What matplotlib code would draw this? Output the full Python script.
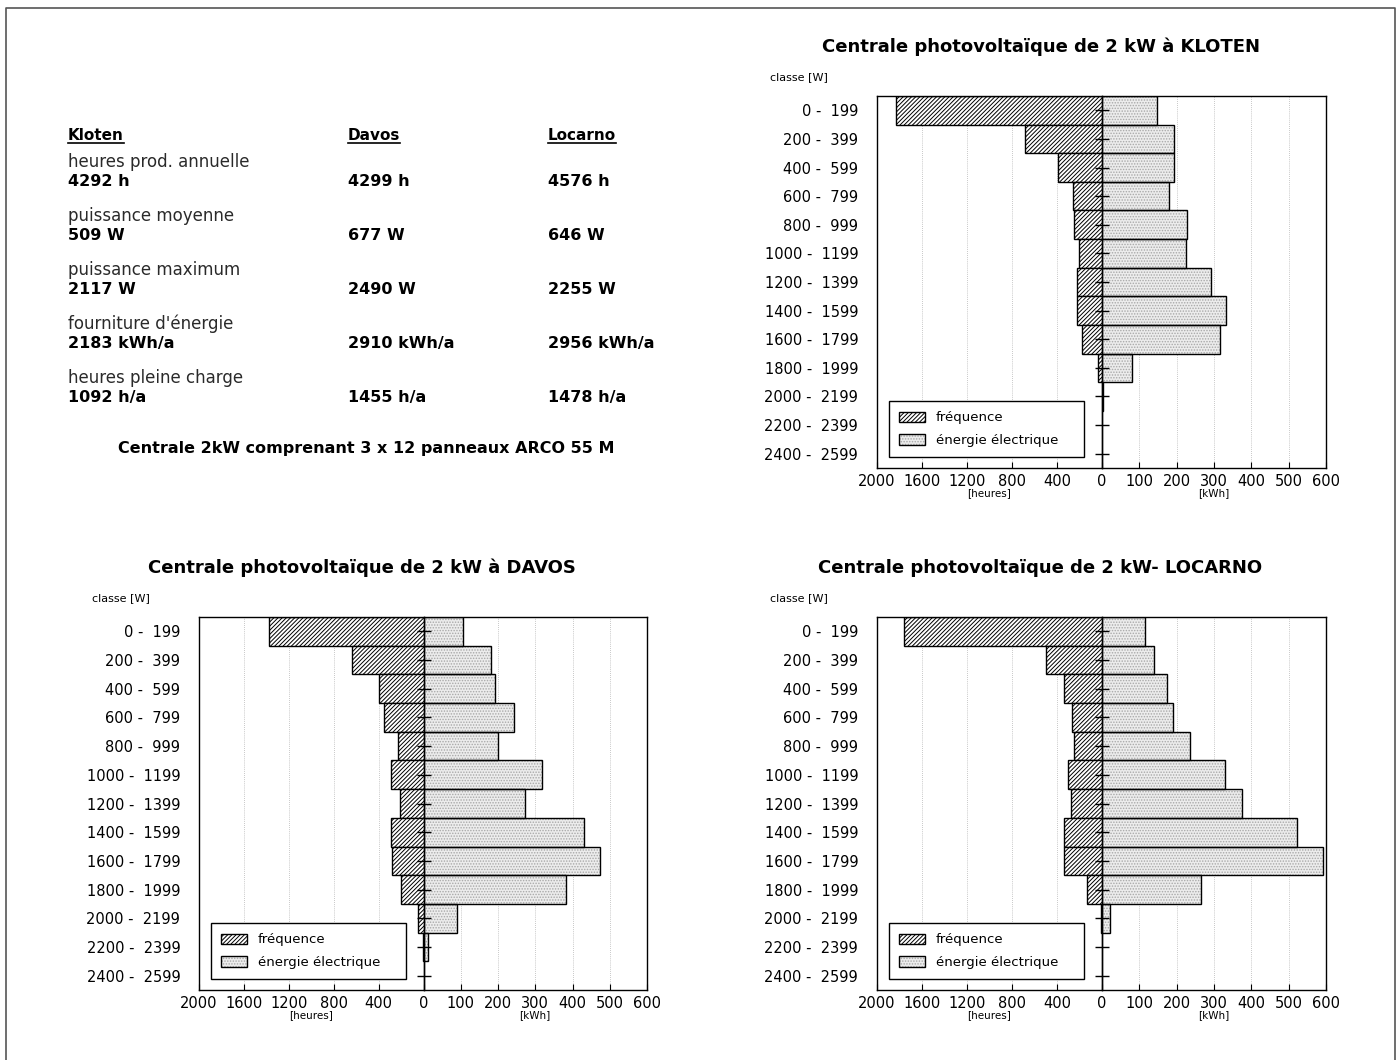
import matplotlib
matplotlib.use('Agg')
import matplotlib.pyplot as plt
import numpy as np
from matplotlib.patches import Patch
from matplotlib.lines import Line2D
from matplotlib.transforms import IdentityTransform

# ---------------- data ----------------
classes = ["0 -  199", "200 -  399", "400 -  599", "600 -  799", "800 -  999",
           "1000 -  1199", "1200 -  1399", "1400 -  1599", "1600 -  1799",
           "1800 -  1999", "2000 -  2199", "2200 -  2399", "2400 -  2599"]

kloten_hours = [1827, 681, 390, 256, 250, 202, 220, 220, 182, 39, 3, 0, 0]
kloten_kwh = [146, 192, 194, 180, 228, 225, 291, 333, 317, 81, 2, 0, 0]
davos_hours = [1373, 633, 392, 354, 223, 291, 211, 288, 279, 199, 45, 3, 0]
davos_kwh = [107, 182, 193, 242, 200, 317, 272, 432, 475, 383, 89, 11, 0]
locarno_hours = [1762, 494, 339, 271, 253, 298, 280, 342, 342, 137, 5, 0, 0]
locarno_kwh = [114, 139, 173, 191, 236, 329, 374, 523, 592, 265, 22, 0, 0]

hours_ticks = [2000, 1600, 1200, 800, 400]
kwh_ticks = [0, 100, 200, 300, 400, 500, 600]

sites = ["Kloten", "Davos", "Locarno"]
row_labels = ["heures prod. annuelle", "puissance moyenne", "puissance maximum",
              "fourniture d'énergie", "heures pleine charge"]
kloten_vals = ["4292 h", "509 W", "2117 W", "2183 kWh/a", "1092 h/a"]
davos_vals = ["4299 h", "677 W", "2490 W", "2910 kWh/a", "1455 h/a"]
locarno_vals = ["4576 h", "646 W", "2255 W", "2956 kWh/a", "1478 h/a"]
caption = "Centrale 2kW comprenant 3 x 12 panneaux ARCO 55 M"

legend_labels = ["fréquence", "énergie électrique"]

# ---------------- style ----------------
plt.rcParams['font.family'] = ['DejaVu Sans']
plt.rcParams['hatch.linewidth'] = 0.7

W, H = 1400, 1060
fig = plt.figure(figsize=(W / 100, H / 100), dpi=100)


def fx(x):
    return x / W


def fy(y):
    return 1 - y / H


# outer frame
fig.add_artist(Line2D([fx(6), fx(6), fx(1395), fx(1395)],
                      [fy(1062), fy(8), fy(8), fy(1062)],
                      transform=fig.transFigure, color='#555555', lw=1.2))

fill_gray = '#ececec'
dot_gray = '#a8a8a8'
grid_kw = dict(color='#b5b5b5', lw=0.6, ls=(0, (1, 1.5)), zorder=0.5)
FREQ_HATCH = '////////'
DOT_HATCH = '......'


def make_chart(left, top, right, bottom, title, hours, kwh):
    zero = (left + right) / 2 + 0.5
    h = (bottom - top) / H
    axL = fig.add_axes([fx(left), fy(bottom), (zero - left) / W, h])
    axR = fig.add_axes([fx(zero), fy(bottom), (right - zero) / W, h])
    y = np.arange(len(classes))
    axL.barh(y, hours, height=1.0, facecolor='white', edgecolor='black',
             hatch=FREQ_HATCH, lw=1.0, zorder=1)
    axR.barh(y, kwh, height=1.0, facecolor=fill_gray, edgecolor=dot_gray,
             hatch=DOT_HATCH, lw=0, zorder=1)
    axR.barh(y, kwh, height=1.0, fill=False, edgecolor='black', lw=1.0,
             zorder=1.1)
    axL.set_xlim(2000, 0)
    axR.set_xlim(0, 600)
    for ax in (axL, axR):
        ax.set_ylim(len(classes) - 0.5, -0.5)
        for s in ax.spines.values():
            s.set_linewidth(1.0)
            s.set_zorder(3)
    axL.spines['right'].set_visible(False)
    axR.set_axisbelow(False)
    # gridlines
    for v in hours_ticks[1:]:
        axL.axvline(v, **grid_kw)
    for v in kwh_ticks[1:-1]:
        axR.axvline(v, **grid_kw)
    # y ticks
    axL.set_yticks(y)
    axL.set_yticklabels(classes, fontsize=10.5)
    axL.tick_params(axis='y', length=0, pad=13.5)
    axR.set_yticks(y)
    axR.tick_params(axis='y', direction='inout', length=10, width=1.0,
                    labelleft=False, left=True)
    # x ticks
    axL.set_xticks(hours_ticks)
    axL.set_xticklabels([str(v) for v in hours_ticks], fontsize=10.5)
    axR.set_xticks(kwh_ticks)
    axR.set_xticklabels([str(v) for v in kwh_ticks], fontsize=10.5)
    for ax in (axL, axR):
        ax.tick_params(axis='x', direction='in', length=4, width=0.8, pad=4)
    axL.set_xlabel("[heures]", fontsize=7.5, labelpad=0)
    axR.set_xlabel("[kWh]", fontsize=7.5, labelpad=0)
    # legend
    h_freq = Patch(facecolor='white', edgecolor='black', hatch=FREQ_HATCH, lw=1.0)
    h_en = (Patch(facecolor=fill_gray, edgecolor=dot_gray, hatch=DOT_HATCH, lw=0),
            Patch(fill=False, edgecolor='black', lw=1.0))
    leg = axL.legend([h_freq, h_en], legend_labels, loc='lower left',
                     bbox_to_anchor=(12 / (zero - left), 11 / (bottom - top),
                                     195 / (zero - left), 0.1),
                     mode='expand', fontsize=9.5, frameon=True, fancybox=False,
                     edgecolor='black', framealpha=1, borderpad=0.75,
                     labelspacing=0.75, handlelength=2.0, handleheight=0.8,
                     handletextpad=0.8, borderaxespad=0)
    leg.get_frame().set_linewidth(1.0)
    leg.set_zorder(5)
    # title & class label
    fig.text(fx(left + (right - left) / 2 - 61), fy(top - 49), title,
             ha='center', va='center', fontsize=13, fontweight='bold')
    fig.text(fx(left - 107), fy(top - 19), "classe [W]", ha='left',
             va='center', fontsize=8)
    return axL, axR


make_chart(877, 96, 1326, 468, "Centrale photovoltaïque de 2 kW à KLOTEN",
           kloten_hours, kloten_kwh)
make_chart(199, 617, 647, 990, "Centrale photovoltaïque de 2 kW à DAVOS",
           davos_hours, davos_kwh)
make_chart(877, 617, 1326, 990, "Centrale photovoltaïque de 2 kW- LOCARNO",
           locarno_hours, locarno_kwh)

# ---------------- text block ----------------
col_x = [68, 348, 548]
header_y = 136
headers = []
for sx, name in zip(col_x, sites):
    t = fig.text(fx(sx), fy(header_y), name, ha='left', va='center',
                 fontsize=11, fontweight='bold')
    headers.append(t)

vals = [kloten_vals, davos_vals, locarno_vals]
for i, lab in enumerate(row_labels):
    ly = 162 + i * 54
    vy = ly + 19.5
    fig.text(fx(col_x[0]), fy(ly), lab, ha='left', va='center', fontsize=12,
             color='#2a2a2a')
    for sx, v in zip(col_x, vals):
        fig.text(fx(sx), fy(vy), v[i], ha='left', va='center', fontsize=11.5,
                 fontweight='bold')

fig.text(fx(366), fy(449), caption, ha='center', va='center', fontsize=11.5,
         fontweight='bold')

# underline headers
fig.canvas.draw()
r = fig.canvas.get_renderer()
for t in headers:
    bb = t.get_window_extent(r)
    fig.add_artist(Line2D([bb.x0, bb.x1], [bb.y0 + 1, bb.y0 + 1],
                          transform=IdentityTransform(), color='black', lw=1.2))

fig.savefig('out.png', dpi=100)
